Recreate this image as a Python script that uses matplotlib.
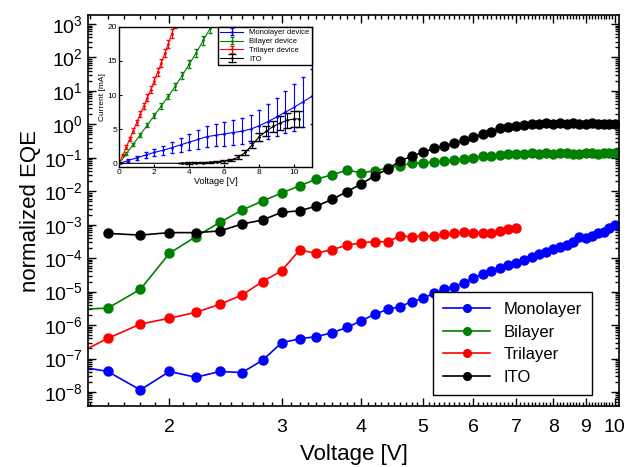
import matplotlib.pyplot as plt
import numpy as np
from matplotlib.ticker import FixedLocator, FuncFormatter, NullFormatter

plt.rcParams['font.family'] = ['Liberation Sans', 'DejaVu Sans']
plt.rcParams['mathtext.fontset'] = 'custom'
plt.rcParams['mathtext.rm'] = 'Liberation Sans'
plt.rcParams['mathtext.it'] = 'Liberation Sans:italic'
plt.rcParams['mathtext.bf'] = 'Liberation Sans:bold'

# main plot: normalized EQE vs voltage
voltage = [1.4, 1.6, 1.8, 2.0, 2.2, 2.4, 2.6, 2.8, 3.0, 3.2, 3.4, 3.6, 3.8,
           4.0, 4.2, 4.4, 4.6, 4.8, 5.0, 5.2, 5.4, 5.6, 5.8, 6.0, 6.2, 6.4,
           6.6, 6.8, 7.0, 7.2, 7.4, 7.6, 7.8, 8.0, 8.2, 8.4, 8.6, 8.8, 9.0,
           9.2, 9.4, 9.6, 9.8, 10.0]

monolayer = [6.3e-8, 4.1e-8, 1.15e-8, 4.1e-8, 2.75e-8, 4.1e-8, 3.8e-8, 8.9e-8,
             2.95e-7, 3.9e-7, 4.5e-7, 5.9e-7, 8.5e-7, 1.35e-6, 2.1e-6, 2.95e-6,
             3.55e-6, 5.0e-6, 6.3e-6, 8.9e-6, 1.17e-5, 1.41e-5, 1.86e-5, 2.5e-5,
             3.4e-5, 4.2e-5, 5.0e-5, 6.2e-5, 7.4e-5, 9.1e-5, 1.1e-4, 1.32e-4,
             1.55e-4, 1.86e-4, 2.2e-4, 2.45e-4, 3.1e-4, 4.2e-4, 3.9e-4, 4.6e-4,
             5.5e-4, 6.2e-4, 7.8e-4, 9.8e-4]

bilayer = [2.9e-6, 3.2e-6, 1.17e-5, 1.4e-4, 4.4e-4, 1.18e-3, 2.75e-3, 5.1e-3,
           8.9e-3, 1.45e-2, 2.3e-2, 3.1e-2, 4.3e-2, 3.55e-2, 4.1e-2, 4.9e-2,
           5.8e-2, 6.9e-2, 6.9e-2, 7.6e-2, 8.1e-2, 8.5e-2, 9.1e-2, 0.102,
           0.112, 0.115, 0.120, 0.126, 0.129, 0.130, 0.135, 0.130, 0.136,
           0.134, 0.138, 0.135, 0.130, 0.134, 0.137, 0.135, 0.133, 0.136,
           0.138, 0.135]

trilayer = [1.1e-7, 4.0e-7, 1.07e-6, 1.6e-6, 2.4e-6, 4.2e-6, 7.9e-6, 2.0e-5,
            4.2e-5, 1.75e-4, 1.4e-4, 1.8e-4, 2.45e-4, 2.9e-4, 3.1e-4, 3.1e-4,
            4.6e-4, 4.4e-4, 4.6e-4, 4.6e-4, 5.2e-4, 5.5e-4, 5.9e-4, 5.5e-4,
            5.8e-4, 5.5e-4, 6.3e-4, 7.2e-4, 7.9e-4]

ito = [5.5e-4, 4.9e-4, 5.8e-4, 5.8e-4, 6.5e-4, 1.05e-3, 1.38e-3, 2.35e-3,
       2.6e-3, 3.6e-3, 5.7e-3, 9.8e-3, 1.66e-2, 2.9e-2, 4.6e-2, 8.0e-2,
       0.113, 0.146, 0.19, 0.225, 0.27, 0.34, 0.41, 0.50, 0.60, 0.76, 0.85,
       0.91, 0.98, 1.02, 1.05, 1.07, 1.05, 1.08, 1.06, 1.07, 1.05, 1.06,
       1.08, 1.05, 1.06, 1.04, 1.05]

# inset: current vs voltage
in_tri_v = [0.0, 0.2, 0.4, 0.6, 0.8, 1.0, 1.2, 1.4, 1.6, 1.8, 2.0, 2.2, 2.4,
            2.6, 2.8, 3.0, 3.2]
in_tri_i = [0.0, 1.2, 2.4, 3.6, 4.8, 6.0, 7.2, 8.4, 9.6, 10.8, 12.1, 13.4,
            14.7, 16.1, 17.5, 19.0, 20.5]
in_tri_e = [0.0, 0.2, 0.3, 0.3, 0.4, 0.4, 0.4, 0.5, 0.5, 0.5, 0.5, 0.6, 0.6,
            0.6, 0.6, 0.7, 0.7]

in_bi_v = [0.0, 0.4, 0.8, 1.2, 1.6, 2.0, 2.4, 2.8, 3.2, 3.6, 4.0, 4.4, 4.8,
           5.2, 5.4]
in_bi_i = [0.0, 1.4, 2.8, 4.2, 5.6, 7.0, 8.4, 9.8, 11.3, 12.9, 14.5, 16.2,
           18.0, 19.8, 20.8]
in_bi_e = [0.0, 0.2, 0.2, 0.3, 0.3, 0.3, 0.4, 0.4, 0.5, 0.5, 0.6, 0.6, 0.7,
           0.7, 0.7]

in_mono_v = [0.0, 0.5, 1.0, 1.5, 2.0, 2.5, 3.0, 3.5, 4.0, 4.5, 5.0, 5.5, 6.0,
             6.5, 7.0, 7.5, 8.0, 8.5, 9.0, 9.5, 10.0, 10.5, 11.0]
in_mono_i = [0.0, 0.4, 0.8, 1.2, 1.6, 1.9, 2.3, 2.7, 3.1, 3.5, 3.9, 4.1, 4.3,
             4.5, 4.7, 5.0, 5.5, 6.1, 6.8, 7.5, 8.2, 9.0, 9.8]
in_mono_e = [0.0, 0.2, 0.3, 0.4, 0.5, 0.7, 0.8, 1.0, 1.2, 1.4, 1.5, 1.6, 1.7,
             1.8, 1.9, 2.1, 2.3, 2.6, 2.8, 3.1, 3.4, 3.7, 4.0]

in_ito_v = [0.0, 3.6, 4.0, 4.4, 4.8, 5.2, 5.6, 6.0, 6.4, 6.8, 7.2, 7.6, 8.0,
            8.4, 8.8, 9.2, 9.6, 10.0, 10.3]
in_ito_i = [0.0, 0.0, 0.05, 0.1, 0.1, 0.15, 0.25, 0.3, 0.5, 0.9, 1.6, 2.7,
            3.9, 4.7, 5.4, 5.9, 6.3, 6.5, 6.5]
in_ito_e = [0.0, 0.0, 0.1, 0.1, 0.1, 0.1, 0.1, 0.2, 0.2, 0.3, 0.4, 0.5, 0.6,
            0.7, 0.8, 1.0, 1.1, 1.2, 1.2]

fig = plt.figure(figsize=(6.3, 4.67), dpi=100)
ax = fig.add_axes([0.1397, 0.1306, 0.8428, 0.8373])

ms = 6.5
lw = 1.2
ax.plot(voltage, monolayer, '-o', color='blue', ms=ms, lw=lw, label='Monolayer')
ax.plot(voltage, bilayer, '-o', color='green', ms=ms, lw=lw, label='Bilayer')
ax.plot(voltage[:len(trilayer)], trilayer, '-o', color='red', ms=ms, lw=lw,
        label='Trilayer')
ax.plot(voltage[1:], ito, '-o', color='black', ms=ms, lw=lw, label='ITO')

ax.set_xscale('log')
ax.set_yscale('log')
ax.set_xlim(1.49, 10.15)
ax.set_ylim(10 ** -8.42, 10 ** 3.27)

ax.xaxis.set_major_locator(FixedLocator([2, 3, 4, 5, 6, 7, 8, 9, 10]))
ax.xaxis.set_major_formatter(FuncFormatter(lambda v, p: '%d' % round(v)))
ax.xaxis.set_minor_locator(FixedLocator(np.arange(1.5, 10.05, 0.1)))
ax.xaxis.set_minor_formatter(NullFormatter())

ax.yaxis.set_major_locator(FixedLocator([10.0 ** k for k in range(-8, 4)]))
ax.yaxis.set_major_formatter(
    FuncFormatter(lambda v, p: r'$\mathregular{10^{%d}}$' % round(np.log10(v))))
ax.yaxis.set_minor_locator(FixedLocator(
    [m * 10.0 ** k for k in range(-9, 4) for m in range(2, 10)]))
ax.yaxis.set_minor_formatter(NullFormatter())

ax.tick_params(which='both', direction='in', top=True, right=True,
               labelsize=14, width=1)
ax.tick_params(which='major', length=6)
ax.tick_params(which='minor', length=3)
ax.tick_params(axis='x', which='major', pad=9)
for s in ax.spines.values():
    s.set_linewidth(1.2)

ax.set_xlabel('Voltage [V]', fontsize=16, labelpad=6)
ax.set_ylabel('normalized EQE', fontsize=16, labelpad=2)

leg = ax.legend(loc='lower right', bbox_to_anchor=(0.964, 0.008), fontsize=12,
                handlelength=2.8, fancybox=False, edgecolor='black',
                framealpha=1, borderpad=0.6, labelspacing=0.45, markerscale=0.85)
leg.get_frame().set_linewidth(1.0)

# inset
ins = fig.add_axes([0.1894, 0.643, 0.3054, 0.2998])
ew = 0.8
ins.errorbar(in_mono_v, in_mono_i, yerr=in_mono_e, fmt='-', marker='.',
             ms=2, color='blue', lw=ew, elinewidth=ew, capsize=1.5,
             label='Monolayer device')
ins.errorbar(in_bi_v, in_bi_i, yerr=in_bi_e, fmt='-', marker='.',
             ms=2, color='green', lw=ew, elinewidth=ew, capsize=1.5,
             label='Bilayer device')
ins.errorbar(in_tri_v, in_tri_i, yerr=in_tri_e, fmt='-', marker='.',
             ms=2, color='red', lw=ew, elinewidth=ew, capsize=1.5,
             label='Trilayer device')
ins.errorbar(in_ito_v, in_ito_i, yerr=in_ito_e, fmt='-', marker='.',
             ms=2, color='black', lw=ew, elinewidth=ew, capsize=3,
             label='ITO')
ins.set_xlim(0, 11)
ins.set_ylim(-0.5, 20)
ins.set_xticks([0, 2, 4, 6, 8, 10])
ins.set_yticks([0, 5, 10, 15, 20])
ins.tick_params(direction='in', labelsize=6, length=2, pad=1.5)
for s in ins.spines.values():
    s.set_linewidth(1.0)
ins.set_xlabel('Voltage [V]', fontsize=6.5, labelpad=1)
ins.set_ylabel('Current [mA]', fontsize=6, labelpad=1)
il = ins.legend(loc='upper right', fontsize=5.5, fancybox=False,
                edgecolor='black', framealpha=1, handlelength=3,
                borderpad=0.3, labelspacing=0.2, borderaxespad=0.0)
il.get_frame().set_linewidth(1.0)

fig.savefig('out.png', dpi=100)
